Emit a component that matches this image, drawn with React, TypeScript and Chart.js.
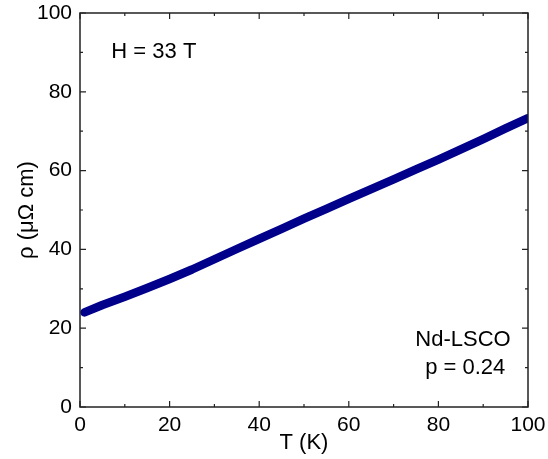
import React, { useEffect, useRef } from "react";
import { Chart, registerables } from "chart.js";

Chart.register(...registerables);

const temperatures = [1, 5, 10, 15, 20, 25, 30, 35, 40, 45, 50, 55, 60, 65, 70, 75, 80, 85, 90, 95, 100];
const resistivity = [24.0, 25.9, 28.0, 30.2, 32.5, 34.9, 37.5, 40.1, 42.7, 45.2, 47.8, 50.3, 52.8, 55.3, 57.8, 60.3, 62.8, 65.4, 68.0, 70.7, 73.3];
const xTicks = [0, 20, 40, 60, 80, 100];
const yTicks = [0, 20, 40, 60, 80, 100];
const minorStep = 10;

const FONT = "'Liberation Sans', Arial, sans-serif";

const framePlugin = {
  id: "frame",
  afterDraw(chart: any) {
    const { ctx, chartArea, scales } = chart;
    const xs = scales.x;
    const ys = scales.y;
    ctx.save();
    ctx.strokeStyle = "#222";
    ctx.lineWidth = 1.5;
    ctx.strokeRect(chartArea.left, chartArea.top, chartArea.right - chartArea.left, chartArea.bottom - chartArea.top);
    ctx.lineWidth = 1.2;
    for (let v = 0; v <= 100; v += minorStep) {
      const major = v % 20 === 0;
      const len = major ? 6 : 3;
      const px = xs.getPixelForValue(v);
      ctx.beginPath();
      ctx.moveTo(px, chartArea.bottom);
      ctx.lineTo(px, chartArea.bottom - len);
      ctx.moveTo(px, chartArea.top);
      ctx.lineTo(px, chartArea.top + len);
      const py = ys.getPixelForValue(v);
      ctx.moveTo(chartArea.left, py);
      ctx.lineTo(chartArea.left + len, py);
      ctx.moveTo(chartArea.right, py);
      ctx.lineTo(chartArea.right - len, py);
      ctx.stroke();
    }
    ctx.fillStyle = "#000";
    ctx.font = `22px ${FONT}`;
    ctx.textBaseline = "middle";
    ctx.textAlign = "left";
    ctx.fillText("H = 33 T", xs.getPixelForValue(7), ys.getPixelForValue(90));
    ctx.textAlign = "center";
    ctx.fillText("Nd-LSCO", xs.getPixelForValue(85.5), ys.getPixelForValue(16.9));
    ctx.fillText("p = 0.24", xs.getPixelForValue(86), ys.getPixelForValue(9.9));
    ctx.restore();
  },
};

export default function App() {
  const ref = useRef<HTMLCanvasElement>(null);
  useEffect(() => {
    if (!ref.current) return;
    const chart = new Chart(ref.current, {
      type: "line",
      data: {
        datasets: [
          {
            data: temperatures.map((t, i) => ({ x: t, y: resistivity[i] })),
            borderColor: "#00008B",
            backgroundColor: "#00008B",
            borderWidth: 8.5,
            borderCapStyle: "round",
            borderJoinStyle: "round",
            pointRadius: 0,
            tension: 0,
          },
        ],
      },
      options: {
        animation: false,
        responsive: false,
        maintainAspectRatio: false,
        layout: { padding: { left: 0, right: 20, top: 13, bottom: 0 } },
        plugins: { legend: { display: false }, tooltip: { enabled: false } },
        scales: {
          x: {
            type: "linear",
            min: 0,
            max: 100,
            grid: { display: false, drawTicks: false },
            border: { display: false },
            afterBuildTicks: (s: any) => {
              s.ticks = xTicks.map((v) => ({ value: v }));
            },
            afterFit: (s: any) => {
              s.height = 52;
              s.paddingLeft = 0;
              s.paddingRight = 0;
            },
            ticks: { color: "#000", font: { family: FONT, size: 21 }, padding: 6, maxRotation: 0 },
            title: { display: true, text: "T (K)", color: "#000", font: { family: FONT, size: 22 }, padding: { top: 0, bottom: 3 } },
          },
          y: {
            type: "linear",
            min: 0,
            max: 100,
            grid: { display: false, drawTicks: false },
            border: { display: false },
            afterBuildTicks: (s: any) => {
              s.ticks = yTicks.map((v) => ({ value: v }));
            },
            afterFit: (s: any) => {
              s.width = 80;
              s.paddingTop = 0;
              s.paddingBottom = 0;
            },
            ticks: { color: "#000", font: { family: FONT, size: 21 }, padding: 8 },
            title: { display: true, text: "ρ (μΩ cm)", color: "#000", font: { family: FONT, size: 22 }, padding: { top: 14, bottom: 0 } },
          },
        },
      },
      plugins: [framePlugin],
    } as any);
    return () => chart.destroy();
  }, []);
  return (
    <div style={{ position: "fixed", left: 0, top: 0, width: 548, height: 459, background: "#fff" }}>
      <canvas ref={ref} width={548} height={459} style={{ width: 548, height: 459 }} />
    </div>
  );
}
